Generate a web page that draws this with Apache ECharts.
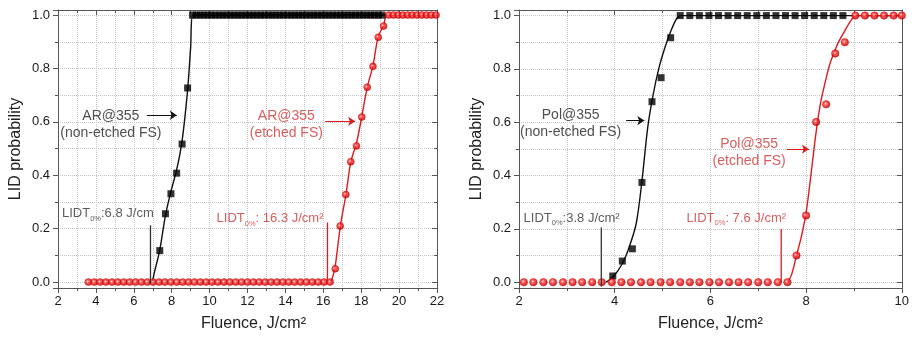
<!DOCTYPE html>
<html><head><meta charset="utf-8">
<script src="https://cdn.jsdelivr.net/npm/echarts@6/dist/echarts.min.js"></script>
<style>html,body{margin:0;padding:0;background:#fff}#c{width:912px;height:337px}</style>
</head><body><div id="c"></div>
<script>
// ---------------- Left panel: AR@355 ----------------
const arNonEtchedX = [7.37, 7.67, 7.96, 8.26, 8.55, 8.84,
  9.1, 9.3, 9.5, 9.7, 9.9, 10.1, 10.3, 10.5, 10.7, 10.9, 11.1, 11.3, 11.5, 11.7, 11.9, 12.1, 12.3, 12.5, 12.7, 12.9,
  13.1, 13.3, 13.5, 13.7, 13.9, 14.1, 14.3, 14.5, 14.7, 14.9, 15.1, 15.3, 15.5, 15.7, 15.9, 16.1, 16.3, 16.5, 16.7,
  16.9, 17.1, 17.3, 17.5, 17.7, 17.9, 18.1, 18.3, 18.5, 18.7, 18.9, 19.1];
const arNonEtchedY = [0.118, 0.256, 0.331, 0.408, 0.517, 0.727,
  1, 1, 1, 1, 1, 1, 1, 1, 1, 1, 1, 1, 1, 1, 1, 1, 1, 1, 1, 1, 1, 1, 1, 1, 1, 1, 1, 1, 1, 1, 1, 1, 1, 1, 1, 1, 1, 1, 1,
  1, 1, 1, 1, 1, 1, 1, 1, 1, 1, 1, 1];
const arEtchedX = [3.6, 3.91, 4.22, 4.53, 4.85, 5.16, 5.47, 5.78, 6.09, 6.4, 6.71, 7.02, 7.33, 7.64, 7.96, 8.27, 8.58, 8.89,
  9.2, 9.51, 9.82, 10.13, 10.44, 10.76, 11.07, 11.38, 11.69, 12.0, 12.31, 12.62, 12.93, 13.24, 13.56, 13.87, 14.18, 14.49,
  14.8, 15.11, 15.42, 15.73, 16.04, 16.36,
  16.63, 16.89, 17.19, 17.45, 17.75, 18.03, 18.32, 18.62, 18.9, 19.18,
  19.45, 19.7, 19.95, 20.2, 20.45, 20.7, 20.95, 21.2, 21.45, 21.7, 21.95];
const arEtchedY = [0, 0, 0, 0, 0, 0, 0, 0, 0, 0, 0, 0, 0, 0, 0, 0, 0, 0, 0, 0, 0, 0, 0, 0, 0, 0, 0, 0, 0, 0, 0, 0, 0, 0, 0, 0,
  0, 0, 0, 0, 0, 0,
  0.05, 0.21, 0.328, 0.451, 0.51, 0.618, 0.73, 0.808, 0.917, 0.959,
  1, 1, 1, 1, 1, 1, 1, 1, 1, 1, 1];
const arNonEtchedFitX = [6.98, 7.1, 7.37, 7.67, 7.96, 8.26, 8.55, 8.84, 9.0, 9.12, 22];
const arNonEtchedFitY = [0, 0.04, 0.12, 0.25, 0.34, 0.42, 0.53, 0.72, 0.88, 1, 1];
const arEtchedFitX = [16.4, 16.5, 16.63, 16.9, 17.2, 17.45, 17.75, 18.03, 18.32, 18.62, 18.9, 19.18, 19.38, 22];
const arEtchedFitY = [0, 0.02, 0.06, 0.21, 0.33, 0.45, 0.52, 0.62, 0.73, 0.81, 0.92, 0.96, 1, 1];
const arLidtNonEtched = 6.88, arLidtEtched = 16.22;
const arLidtNonEtchedTop = 0.213, arLidtEtchedTop = 0.223;

// ---------------- Right panel: Pol@355 ----------------
const polNonEtchedX = [3.96, 4.16, 4.37, 4.57, 4.78, 4.97, 5.17,
  5.37, 5.57, 5.77, 5.97, 6.17, 6.37, 6.57, 6.77, 6.97, 7.17, 7.37, 7.57, 7.77, 7.97, 8.17, 8.37, 8.57, 8.77];
const polNonEtchedY = [0.023, 0.079, 0.125, 0.374, 0.677, 0.767, 0.917,
  1, 1, 1, 1, 1, 1, 1, 1, 1, 1, 1, 1, 1, 1, 1, 1, 1, 1];
const polEtchedX = [2.1, 2.3, 2.51, 2.71, 2.92, 3.12, 3.32, 3.53, 3.73, 3.94, 4.14, 4.34, 4.55, 4.75, 4.96, 5.16, 5.37,
  5.57, 5.77, 5.98, 6.18, 6.39, 6.59, 6.79, 7.0, 7.2, 7.41, 7.61,
  7.8, 8.0, 8.21, 8.42, 8.61, 8.81,
  9.03, 9.23, 9.43, 9.63, 9.83, 10.0];
const polEtchedY = [0, 0, 0, 0, 0, 0, 0, 0, 0, 0, 0, 0, 0, 0, 0, 0, 0, 0, 0, 0, 0, 0, 0, 0, 0, 0, 0, 0,
  0.10, 0.25, 0.601, 0.667, 0.858, 0.90,
  1, 1, 1, 1, 1, 1];
const polNonEtchedFitX = [3.82, 3.97, 4.16, 4.3, 4.45, 4.57, 4.69, 4.8, 4.92, 5.05, 5.17, 5.3, 5.4, 10];
const polNonEtchedFitY = [0, 0.02, 0.07, 0.13, 0.22, 0.38, 0.58, 0.7, 0.8, 0.88, 0.94, 0.99, 1, 1];
const polEtchedFitX = [7.62, 7.7, 7.8, 7.9, 8.0, 8.1, 8.2, 8.3, 8.4, 8.5, 8.65, 8.8, 8.95, 9.05, 10];
const polEtchedFitY = [0, 0.03, 0.1, 0.17, 0.26, 0.4, 0.55, 0.67, 0.75, 0.82, 0.89, 0.94, 0.985, 1, 1];
const polLidtNonEtched = 3.72, polLidtEtched = 7.48;
const polLidtNonEtchedTop = 0.205, polLidtEtchedTop = 0.199;

// tick labels
const xTicksLeft = [2, 4, 6, 8, 10, 12, 14, 16, 18, 20, 22];
const xTicksRight = [2, 4, 6, 8, 10];
const yTicks = ['0.0', '0.2', '0.4', '0.6', '0.8', '1.0'];

const zip = (xs, ys) => xs.map((x, i) => [x, ys[i]]);
const RED = '#e01a1a', RED_TXT = '#d13434', BLK = '#111';
const FONT = 'Liberation Sans, Arial, sans-serif';

const ball = {
  color: new echarts.graphic.RadialGradient(0.42, 0.42, 0.62, [
    {offset: 0, color: '#ffe6e6'}, {offset: 0.3, color: '#ff3b3b'}, {offset: 0.75, color: '#d80000'}, {offset: 1, color: '#a80000'}]),
  borderColor: '#c00000', borderWidth: 0.5
};

function xBottom(gi, min, max, ticks) {
  return {type: 'value', gridIndex: gi, min: min, max: max, interval: 2, position: 'bottom',
    axisLine: {show: true, onZero: false, lineStyle: {color: '#555', width: 1}},
    axisTick: {show: true, length: 5, lineStyle: {color: '#555'}},
    minorTick: {show: true, splitNumber: 2, length: 3, lineStyle: {color: '#555'}},
    axisLabel: {show: true, margin: 7, color: '#1a1a1a', fontSize: 13, fontFamily: FONT,
      formatter: v => ticks.indexOf(v) >= 0 ? String(v) : ''},
    splitLine: {show: true, lineStyle: {type: 'dotted', color: '#c4c4c4', width: 1}},
    minorSplitLine: {show: true, lineStyle: {type: 'dotted', color: '#c4c4c4', width: 1}},
    name: 'Fluence, J/cm²', nameLocation: 'middle', nameGap: 28,
    nameTextStyle: {fontSize: 16, color: '#222', fontFamily: FONT, padding: gi === 0 ? [0, 0, 0, 12] : 0}
  };
}
function xTop(gi, min, max) {
  return {type: 'value', gridIndex: gi, min: min, max: max, interval: 2, position: 'top',
    axisLine: {show: true, onZero: false, lineStyle: {color: '#555', width: 1}},
    axisTick: {show: true, inside: true, length: 5, lineStyle: {color: '#555'}},
    minorTick: {show: true, splitNumber: 2, length: 3, lineStyle: {color: '#555'}},
    axisLabel: {show: false}, splitLine: {show: false}};
}
function yLeft(gi, min, max) {
  return {type: 'value', gridIndex: gi, min: min, max: max, splitNumber: 5, position: 'left',
    axisLine: {show: true, onZero: false, lineStyle: {color: '#555', width: 1}},
    axisTick: {show: true, length: 5, lineStyle: {color: '#555'}},
    minorTick: {show: true, splitNumber: 2, length: 3, lineStyle: {color: '#555'}},
    axisLabel: {show: true, margin: 8, color: '#1a1a1a', fontSize: 13, fontFamily: FONT,
      showMinLabel: false, showMaxLabel: false,
      formatter: v => { const s = v.toFixed(1); return yTicks.indexOf(s) >= 0 && Math.abs(v - parseFloat(s)) < 1e-6 ? s : ''; }},
    splitLine: {show: true, lineStyle: {type: 'dotted', color: '#c4c4c4', width: 1}},
    minorSplitLine: {show: true, lineStyle: {type: 'dotted', color: '#c4c4c4', width: 1}},
    name: 'LID probability', nameLocation: 'middle', nameGap: 34,
    nameTextStyle: {fontSize: 16, color: '#222', fontFamily: FONT}
  };
}
function yRight(gi, min, max) {
  return {type: 'value', gridIndex: gi, min: min, max: max, splitNumber: 5, position: 'right',
    axisLine: {show: true, onZero: false, lineStyle: {color: '#555', width: 1}},
    axisTick: {show: true, inside: true, length: 5, lineStyle: {color: '#555'}},
    minorTick: {show: true, splitNumber: 2, length: 3, lineStyle: {color: '#555'}},
    axisLabel: {show: false}, splitLine: {show: false}};
}

function fitLine(ai, xs, ys, color, arrow) {
  const s = {type: 'line', xAxisIndex: ai, yAxisIndex: ai, data: zip(xs, ys), smooth: 0.3,
    symbol: 'none', lineStyle: {color: color, width: 1.4}, z: 2, silent: true};
  if (arrow) {
    s.markLine = {silent: true, symbol: ['none', 'arrow'], symbolSize: 7, label: {show: false},
      lineStyle: {color: color, width: 1, type: 'solid'},
      data: [[{coord: arrow[0]}, {coord: arrow[1]}]]};
  }
  return s;
}
function vLine(ai, x, top, bottom, color) {
  return {type: 'line', xAxisIndex: ai, yAxisIndex: ai, data: [[x, bottom], [x, top]], symbol: 'none',
    lineStyle: {color: color, width: 1.3}, z: 6, silent: true};
}
function note(ai, pos, text, rich) {
  return {type: 'scatter', xAxisIndex: ai, yAxisIndex: ai, symbolSize: 0, silent: true, z: 7,
    data: [{value: pos}],
    label: {show: true, position: 'inside', formatter: text, rich: rich, align: 'center'}};
}
const richBlack = {b: {fontSize: 14, color: '#222', fontFamily: FONT, lineHeight: 17, align: 'center'}};
const richRed = {b: {fontSize: 14, color: RED_TXT, fontFamily: FONT, lineHeight: 17, align: 'center'}};
function lidtRich(color) {
  return {
    a: {fontSize: 13, color: color, fontFamily: FONT, lineHeight: 18, verticalAlign: 'middle'},
    s: {fontSize: 7.5, color: color, fontFamily: FONT, lineHeight: 18, verticalAlign: 'bottom'}
  };
}

const option = {
  animation: false,
  backgroundColor: '#fff',
  grid: [
    {left: 58, top: 10, width: 379, height: 280, containLabel: false},
    {left: 519, top: 10, width: 384, height: 283, containLabel: false}
  ],
  xAxis: [xBottom(0, 2, 22, xTicksLeft), xTop(0, 2, 22), xBottom(1, 2, 10, xTicksRight), xTop(1, 2, 10)],
  yAxis: [yLeft(0, -0.022, 1.019), yRight(0, -0.022, 1.019), yLeft(1, -0.022, 1.021), yRight(1, -0.022, 1.021)],
  series: [
    // left panel (axes index 0)
    fitLine(0, arNonEtchedFitX, arNonEtchedFitY, BLK, [[6.69, 0.625], [8.27, 0.625]]),
    fitLine(0, arEtchedFitX, arEtchedFitY, RED, [[16.1, 0.602], [17.68, 0.602]]),
    {type: 'scatter', xAxisIndex: 0, yAxisIndex: 0, data: zip(arNonEtchedX, arNonEtchedY), symbol: 'rect',
      symbolSize: 7, itemStyle: {color: '#000'}, z: 3, silent: true},
    {type: 'scatter', xAxisIndex: 0, yAxisIndex: 0, data: zip(arEtchedX, arEtchedY), symbol: 'circle',
      symbolSize: 7, itemStyle: ball, z: 4, silent: true},
    vLine(0, arLidtNonEtched, arLidtNonEtchedTop, -0.005, '#333'),
    vLine(0, arLidtEtched, arLidtEtchedTop, 0, RED),
    note(0, [4.79, 0.59], '{b|AR@355}\n{b|(non-etched FS)}', richBlack),
    note(0, [14.05, 0.591], '{b|AR@355}\n{b|(etched FS)}', richRed),
    note(0, [4.63, 0.257], '{a|LIDT}{s|0%}{a|:6.8 J/cm}', lidtRich('#333')),
    note(0, [13.19, 0.238], '{a|LIDT}{s|0%}{a|: 16.3 J/cm²}', lidtRich(RED_TXT)),
    // right panel (axes index 2)
    fitLine(2, polNonEtchedFitX, polNonEtchedFitY, BLK, [[4.24, 0.606], [4.62, 0.606]]),
    fitLine(2, polEtchedFitX, polEtchedFitY, RED, [[7.6, 0.499], [8.06, 0.499]]),
    {type: 'scatter', xAxisIndex: 2, yAxisIndex: 2, data: zip(polNonEtchedX, polNonEtchedY), symbol: 'rect',
      symbolSize: 7, itemStyle: {color: '#000'}, z: 3, silent: true},
    {type: 'scatter', xAxisIndex: 2, yAxisIndex: 2, data: zip(polEtchedX, polEtchedY), symbol: 'circle',
      symbolSize: 7.5, itemStyle: ball, z: 4, silent: true},
    vLine(2, polLidtNonEtched, polLidtNonEtchedTop, -0.016, '#333'),
    vLine(2, polLidtEtched, polLidtEtchedTop, 0, RED),
    note(2, [3.08, 0.594], '{b|Pol@355}\n{b|(non-etched FS)}', richBlack),
    note(2, [6.81, 0.487], '{b|Pol@355}\n{b|(etched FS)}', richRed),
    note(2, [3.10, 0.24], '{a|LIDT}{s|0%}{a|:3.8 J/cm²}', lidtRich('#333')),
    note(2, [6.54, 0.24], '{a|LIDT}{s|0%}{a|: 7.6 J/cm²}', lidtRich(RED_TXT))
  ]
};
const chart = echarts.init(document.getElementById('c'), null, {renderer: 'canvas'});
chart.setOption(option);
</script></body></html>
